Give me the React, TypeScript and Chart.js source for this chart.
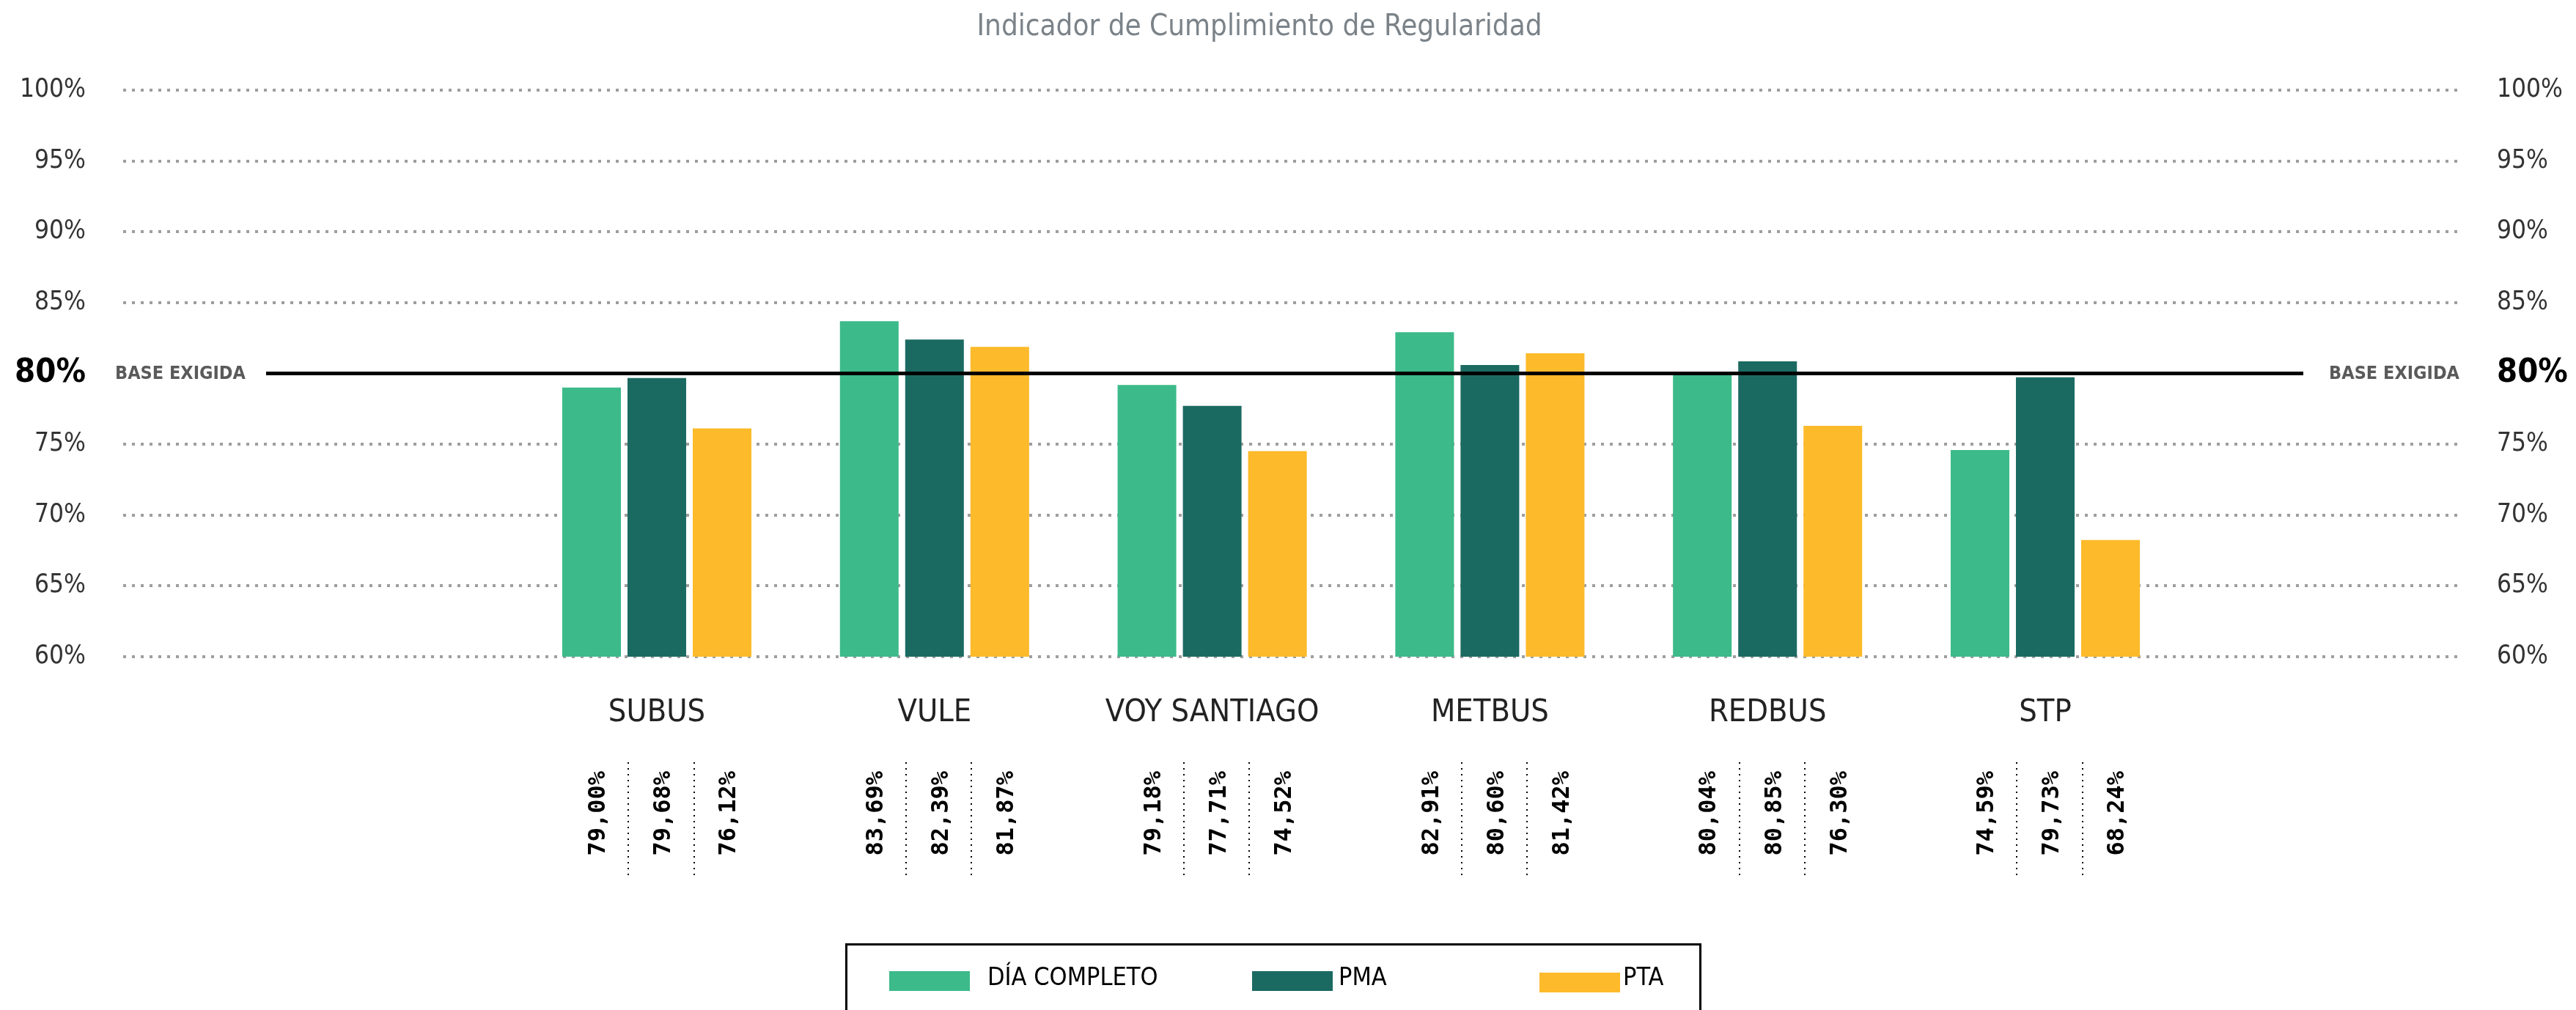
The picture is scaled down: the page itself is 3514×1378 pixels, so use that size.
import React, { useEffect, useRef } from 'react';
import { Chart, registerables } from 'chart.js';

Chart.register(...registerables);

// ---- data ----
const categories = ['SUBUS', 'VULE', 'VOY SANTIAGO', 'METBUS', 'REDBUS', 'STP'];
const diaCompleto = [79.0, 83.69, 79.18, 82.91, 80.04, 74.59];
const pma = [79.68, 82.39, 77.71, 80.6, 80.85, 79.73];
const pta = [76.12, 81.87, 74.52, 81.42, 76.3, 68.24];
const seriesLabels = ['DÍA COMPLETO', 'PMA', 'PTA'];
const seriesColors = ['#3cba8a', '#1b6a62', '#fdba2a'];
const baseLineValue = 80;
const titleText = 'Indicador de Cumplimiento de Regularidad';
const baseLabel = 'BASE EXIGIDA';

// ---- styling ----
const W = 3514;
const H = 1378;
const F_NARROW = "'DejaVu Sans Condensed', 'DejaVu Sans', sans-serif";
const F_VAL = "'DejaVu Sans Mono', monospace";

const fmt = (v: number) => v.toFixed(2).replace('.', ',') + '%';

const overlayPlugin = {
  id: 'overlay',
  afterDraw(chart: any) {
    const { ctx, chartArea, scales } = chart;
    const yScale = scales.y;
    ctx.save();

    // title
    ctx.fillStyle = '#7b8389';
    ctx.font = `40px ${F_NARROW}`;
    ctx.textAlign = 'center';
    ctx.textBaseline = 'alphabetic';
    ctx.fillText(titleText, 1718, 48);

    // base line
    const yb = yScale.getPixelForValue(baseLineValue);
    ctx.strokeStyle = '#000';
    ctx.lineWidth = 5;
    ctx.setLineDash([]);
    ctx.beginPath();
    ctx.moveTo(chartArea.left + 195, yb);
    ctx.lineTo(chartArea.right - 213, yb);
    ctx.stroke();

    ctx.fillStyle = '#5a5a5a';
    ctx.font = `bold 25px ${F_NARROW}`;
    ctx.textBaseline = 'middle';
    ctx.textAlign = 'left';
    ctx.fillText(baseLabel, chartArea.left - 11, yb + 1);
    ctx.textAlign = 'right';
    ctx.fillText(baseLabel, chartArea.right, yb + 1);

    // rotated value labels
    const metas = chart.data.datasets.map((_: any, i: number) => chart.getDatasetMeta(i));
    ctx.fillStyle = '#000';
    ctx.font = `bold 32px ${F_VAL}`;
    metas.forEach((meta: any, d: number) => {
      meta.data.forEach((el: any, j: number) => {
        const v = chart.data.datasets[d].data[j].y;
        ctx.save();
        ctx.translate(el.x + 10, 1052);
        ctx.rotate(-Math.PI / 2);
        ctx.textAlign = 'right';
        ctx.textBaseline = 'middle';
        ctx.fillText(fmt(v), 0, 0);
        ctx.restore();
      });
    });

    // dotted separators
    ctx.strokeStyle = '#000';
    ctx.lineWidth = 2;
    ctx.setLineDash([2, 6]);
    categories.forEach((_, j) => {
      for (let d = 0; d < metas.length - 1; d++) {
        const x = Math.round((metas[d].data[j].x + metas[d + 1].data[j].x) / 2 + 6);
        ctx.beginPath();
        ctx.moveTo(x, 1040);
        ctx.lineTo(x, 1199);
        ctx.stroke();
      }
    });
    ctx.setLineDash([]);

    // legend box
    ctx.strokeStyle = '#000';
    ctx.lineWidth = 3;
    ctx.strokeRect(1154.5, 1288.5, 1165, 200);
    const legendPos = [
      { sx: 1213, sy: 1325, tx: 1347 },
      { sx: 1708, sy: 1325, tx: 1826 },
      { sx: 2100, sy: 1327, tx: 2214 },
    ];
    ctx.font = `34px ${F_NARROW}`;
    ctx.textAlign = 'left';
    ctx.textBaseline = 'alphabetic';
    chart.data.datasets.forEach((ds: any, i: number) => {
      const p = legendPos[i];
      ctx.fillStyle = ds.backgroundColor;
      ctx.fillRect(p.sx, p.sy, 110, 27);
      ctx.fillStyle = '#000';
      ctx.fillText(ds.label, p.tx, 1344);
    });

    ctx.restore();
  },
};

const SPACING = 378.8;
const FIRST_CENTER = 896;
const AREA_LEFT = 168;
const AREA_RIGHT = 3355;
const X_MIN = (AREA_LEFT - FIRST_CENTER) / SPACING;
const X_MAX = (AREA_RIGHT - FIRST_CENTER) / SPACING;

const yTickFont = (ctx: any) =>
  ctx.tick && ctx.tick.value === baseLineValue
    ? { family: F_NARROW, size: 45, weight: 'bold' }
    : { family: F_NARROW, size: 35, weight: 'normal' };
const yTickColor = (ctx: any) => (ctx.tick && ctx.tick.value === baseLineValue ? '#000' : '#333');

export default function App() {
  const ref = useRef<HTMLCanvasElement | null>(null);

  useEffect(() => {
    if (!ref.current) return;
    const seriesData = [diaCompleto, pma, pta];
    const chart = new Chart(ref.current, {
      type: 'bar',
      data: {
        datasets: seriesData.map((arr, i) => ({
          label: seriesLabels[i],
          data: arr.map((v, j) => ({ x: j, y: v })),
          backgroundColor: seriesColors[i],
          borderWidth: 0,
          categoryPercentage: 0.705,
          barPercentage: 0.899,
        })),
      },
      plugins: [overlayPlugin],
      options: {
        responsive: false,
        maintainAspectRatio: false,
        devicePixelRatio: 1,
        animation: false,
        layout: { padding: { top: 123, left: 0, right: 0, bottom: 0 } },
        plugins: {
          legend: { display: false },
          title: { display: false },
          tooltip: { enabled: false },
        },
        scales: {
          x: {
            type: 'linear',
            min: X_MIN,
            max: X_MAX,
            offset: false,
            grid: { display: false, drawTicks: false },
            border: { display: false },
            afterBuildTicks: (s: any) => {
              s.ticks = categories.map((_, i) => ({ value: i }));
            },
            afterFit: (s: any) => {
              s.height = H - 896;
            },
            ticks: {
              autoSkip: false,
              maxRotation: 0,
              minRotation: 0,
              padding: 51,
              color: '#222',
              font: { family: F_NARROW, size: 43 },
              callback: (v: any) => categories[v] ?? '',
            },
          },
          y: {
            position: 'left',
            min: 60,
            max: 100,
            z: 1,
            afterFit: (s: any) => {
              s.width = AREA_LEFT;
            },
            ticks: {
              stepSize: 5,
              padding: 51,
              font: yTickFont,
              color: yTickColor,
              callback: (v: any) => v + '%',
            },
            grid: {
              drawTicks: false,
              lineWidth: 4,
              color: (ctx: any) =>
                ctx.tick && ctx.tick.value === baseLineValue ? 'rgba(0,0,0,0)' : 'rgba(125,125,125,0.75)',
            },
            border: { display: false, dash: [4, 8] },
          },
          y2: {
            position: 'right',
            min: 60,
            max: 100,
            afterFit: (s: any) => {
              s.width = W - AREA_RIGHT;
            },
            ticks: {
              stepSize: 5,
              padding: 51,
              font: yTickFont,
              color: yTickColor,
              callback: (v: any) => v + '%',
            },
            grid: { display: false, drawTicks: false },
            border: { display: false },
          },
        },
      } as any,
    });
    return () => chart.destroy();
  }, []);

  return (
    <div style={{ position: 'fixed', left: 0, top: 0, width: W, height: H, background: '#fff' }}>
      <canvas ref={ref} width={W} height={H} style={{ display: 'block', width: W, height: H }} />
    </div>
  );
}
